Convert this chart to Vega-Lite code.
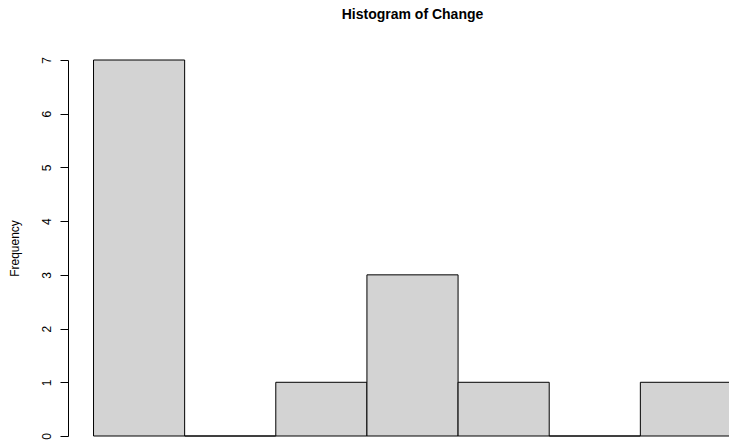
{
  "$schema": "https://vega.github.io/schema/vega-lite/v6.json",
  "width": 689,
  "height": 376,
  "autosize": {"type": "none"},
  "padding": {"left": 68, "top": 60, "right": 0, "bottom": 4},
  "background": "white",
  "title": {
    "text": "Histogram of Change",
    "font": "Liberation Sans",
    "fontSize": 14,
    "fontWeight": "bold",
    "color": "black",
    "anchor": "middle",
    "baseline": "alphabetic",
    "offset": 24
  },
  "data": {
    "values": [
      {"bin_start": 0, "bin_end": 10, "count": 7},
      {"bin_start": 10, "bin_end": 20, "count": 0},
      {"bin_start": 20, "bin_end": 30, "count": 1},
      {"bin_start": 30, "bin_end": 40, "count": 3},
      {"bin_start": 40, "bin_end": 50, "count": 1},
      {"bin_start": 50, "bin_end": 60, "count": 0},
      {"bin_start": 60, "bin_end": 70, "count": 1}
    ]
  },
  "mark": {"type": "rect", "fill": "#D3D3D3", "stroke": "black", "strokeWidth": 1},
  "encoding": {
    "x": {
      "field": "bin_start",
      "type": "quantitative",
      "scale": {"domain": [-2.8, 72.8], "nice": false, "zero": false},
      "axis": null
    },
    "x2": {"field": "bin_end"},
    "y": {
      "field": "count",
      "type": "quantitative",
      "scale": {"domain": [0, 7], "nice": false},
      "axis": {
        "title": "Frequency",
        "titleFont": "Liberation Sans",
        "titleFontSize": 12,
        "titleFontWeight": "normal",
        "titleColor": "black",
        "titlePadding": 19,
        "values": [0, 1, 2, 3, 4, 5, 6, 7],
        "format": "d",
        "grid": false,
        "domainColor": "black",
        "tickColor": "black",
        "tickSize": 8,
        "labelFont": "Liberation Sans",
        "labelFontSize": 12,
        "labelColor": "black",
        "labelAngle": 270,
        "labelAlign": "center",
        "labelBaseline": "alphabetic",
        "labelPadding": 10
      }
    },
    "y2": {"datum": 0}
  },
  "config": {"view": {"stroke": null}}
}
